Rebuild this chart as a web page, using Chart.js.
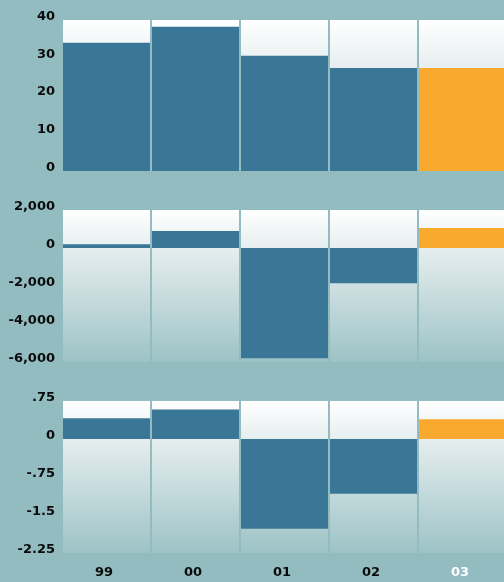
<!DOCTYPE html>
<html>
<head>
<meta charset="utf-8">
<script src="https://cdn.jsdelivr.net/npm/chart.js@4/dist/chart.umd.min.js"></script>
<style>
  html, body { margin: 0; padding: 0; background: #93bcc0; overflow: hidden; }
  #wrap { position: relative; width: 504px; height: 582px; overflow: hidden; background: #93bcc0; }
  canvas { position: absolute; left: 0; }
</style>
</head>
<body>
<div id="wrap">
  <canvas id="c1" width="507" height="190" style="top:0px"></canvas>
  <canvas id="c2" width="507" height="190" style="top:190px"></canvas>
  <canvas id="c3" width="507" height="202" style="top:380px"></canvas>
</div>
<script>
// data
const categories = ['99', '00', '01', '02', '03'];
const panel1Values = [34, 38.2, 30.5, 27.3, 27.3];
const panel2Values = [200, 900, -5800, -1850, 1050];
const panel3Values = [0.41, 0.58, -1.77, -1.08, 0.39];
const panel1Ticks = [0, 10, 20, 30, 40];
const panel2Ticks = [-6000, -4000, -2000, 0, 2000];
const panel3Ticks = [-2.25, -1.5, -0.75, 0, 0.75];
const panel3TickLabels = ['-2.25', '-1.5', '-.75', '0', '.75'];

const BLUE = '#3a7696';
const ORANGE = '#f9aa2e';
const barColors = categories.map((c, i) => i === categories.length - 1 ? ORANGE : BLUE);
const FONT = { family: 'DejaVu Sans', size: 13, weight: 'bold' };

// white fading to pale grey above zero, then down to teal below zero
function columnGradient(ctx) {
  const chart = ctx.chart;
  const area = chart.chartArea;
  if (!area) return '#ffffff';
  const y = chart.scales.y;
  let f = (y.getPixelForValue(0) - area.top) / (area.bottom - area.top);
  f = Math.min(Math.max(f, 0.05), 0.32);
  const g = chart.ctx.createLinearGradient(0, area.top, 0, area.bottom);
  g.addColorStop(0, '#ffffff');
  g.addColorStop(f, '#e6eeef');
  g.addColorStop(1, y.min < 0 ? '#9dc3c6' : '#dae5e7');
  return g;
}

function makePanel(id, values, ticks, tickLabels, pad, showX) {
  const min = ticks[0], max = ticks[ticks.length - 1];
  new Chart(document.getElementById(id), {
    type: 'bar',
    data: {
      labels: categories,
      datasets: [
        {
          data: values,
          backgroundColor: barColors,
          order: 1
        },
        {
          data: categories.map(() => [min, max]),
          backgroundColor: columnGradient,
          order: 2
        }
      ]
    },
    options: {
      responsive: false,
      animation: false,
      devicePixelRatio: 1,
      layout: { padding: { top: pad.top, bottom: pad.bottom, left: 0, right: 0 } },
      datasets: {
        bar: {
          grouped: false,
          barPercentage: 87 / 89,
          categoryPercentage: 1,
          borderWidth: 0
        }
      },
      plugins: { legend: { display: false }, tooltip: { enabled: false } },
      scales: {
        x: {
          display: showX,
          grid: { display: false, drawTicks: false },
          border: { display: false },
          ticks: {
            font: FONT,
            padding: 12,
            labelOffset: -2.5,
            color: categories.map((c, i) => i === categories.length - 1 ? '#ffffff' : '#0a0a0a')
          },
          afterFit: s => { s.height = showX ? 29 : 0; }
        },
        y: {
          min: min,
          max: max,
          grid: { display: false, drawTicks: false },
          border: { display: false },
          afterBuildTicks: s => { s.ticks = ticks.map(v => ({ value: v })); },
          afterFit: s => { s.width = 62; },
          ticks: {
            font: FONT,
            color: '#0a0a0a',
            padding: 7,
            labelOffset: -3.5,
            callback: (v, i) => tickLabels[i]
          }
        }
      }
    }
  });
}

makePanel('c1', panel1Values, panel1Ticks, panel1Ticks.map(v => String(v)), { top: 20, bottom: 19 }, false);
makePanel('c2', panel2Values, panel2Ticks, panel2Ticks.map(v => v.toLocaleString('en-US')), { top: 20, bottom: 18 }, false);
makePanel('c3', panel3Values, panel3Ticks, panel3TickLabels, { top: 21, bottom: 0 }, true);
</script>
</body>
</html>
